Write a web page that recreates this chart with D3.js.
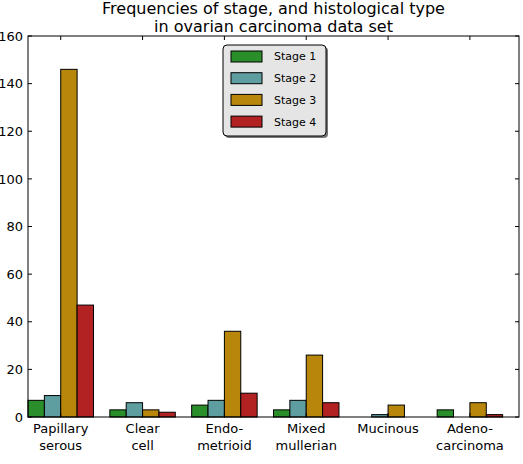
<!DOCTYPE html>
<html>
<head>
<meta charset="utf-8">
<script src="https://cdn.jsdelivr.net/npm/d3@7"></script>
<style>
  body { margin: 0; background: #fff; }
  text { font-family: "DejaVu Sans", sans-serif; }
</style>
</head>
<body>
<div id="chart"></div>
<script>
// Data.
const histTypes = [
    ["Papillary", "serous"],
    ["Clear", "cell"],
    ["Endo-", "metrioid"],
    ["Mixed", "mullerian"],
    ["Mucinous"],
    ["Adeno-", "carcinoma"]
];
const stages = ["Stage 1", "Stage 2", "Stage 3", "Stage 4"];
const stage1 = [7, 3, 5, 3, 0, 3];
const stage2 = [9, 6, 7, 7, 1, 0];
const stage3 = [146, 3, 36, 26, 5, 6];
const stage4 = [47, 2, 10, 6, 0, 1];
const yTicks = [0, 20, 40, 60, 80, 100, 120, 140, 160];

const colors = ["#2a8f2a", "#5f9ea0", "#b8860b", "#b22222"];

const W = 523, H = 464;
const Margin = { top: 36, right: 4, bottom: 47, left: 28 };
const Width = W - Margin.left - Margin.right;
const Height = H - Margin.top - Margin.bottom;

const series = [stage1, stage2, stage3, stage4];
const barW = 0.2;

const svg = d3.select("#chart")
    .append("svg")
        .attr("width", W)
        .attr("height", H);

const g = svg.append("g")
    .attr("transform", `translate(${Margin.left},${Margin.top})`);

const x = d3.scaleLinear().domain([0, 6]).range([0, Width]);
const y = d3.scaleLinear().domain([0, 160]).range([Height, 0]);

// Bars
series.forEach((vals, k) => {
    g.selectAll(".bar" + k)
        .data(vals)
        .join("rect")
            .attr("x", (d, i) => x(i + k * barW))
            .attr("width", x(barW) - x(0))
            .attr("y", d => y(d))
            .attr("height", d => y(0) - y(d))
            .attr("fill", colors[k])
            .attr("stroke", "#000")
            .attr("stroke-width", 1);
});

// Frame
g.append("rect")
    .attr("x", 0).attr("y", 0)
    .attr("width", Width).attr("height", Height)
    .attr("fill", "none")
    .attr("stroke", "#000")
    .attr("stroke-width", 1);

// Ticks inside on all four sides
const tickLen = 4;
const xTickPos = histTypes.map((d, i) => i + 0.4);
xTickPos.forEach(v => {
    g.append("line").attr("x1", x(v)).attr("x2", x(v))
        .attr("y1", Height).attr("y2", Height - tickLen).attr("stroke", "#000");
    g.append("line").attr("x1", x(v)).attr("x2", x(v))
        .attr("y1", 0).attr("y2", tickLen).attr("stroke", "#000");
});
yTicks.forEach(v => {
    g.append("line").attr("x1", 0).attr("x2", tickLen)
        .attr("y1", y(v)).attr("y2", y(v)).attr("stroke", "#000");
    g.append("line").attr("x1", Width).attr("x2", Width - tickLen)
        .attr("y1", y(v)).attr("y2", y(v)).attr("stroke", "#000");
});

// Y tick labels
g.selectAll(".ylab")
    .data(yTicks)
    .join("text")
        .attr("x", -5)
        .attr("y", d => y(d))
        .attr("dy", "0.36em")
        .attr("text-anchor", "end")
        .style("font-size", "13px")
        .attr("fill", "#000")
        .text(d => d);

// X tick labels (two lines)
histTypes.forEach((lines, i) => {
    const t = g.append("text")
        .attr("x", x(i + 0.4))
        .attr("y", Height + 16)
        .attr("text-anchor", "middle")
        .style("font-size", "13px")
        .attr("fill", "#000");
    lines.forEach((ln, j) => {
        t.append("tspan")
            .attr("x", x(i + 0.4))
            .attr("dy", j === 0 ? 0 : 16.5)
            .text(ln);
    });
});

// Title
const title = svg.append("text")
    .attr("x", Margin.left + Width / 2)
    .attr("y", 14)
    .attr("text-anchor", "middle")
    .style("font-size", "16px")
    .attr("fill", "#000");
title.append("tspan").attr("x", Margin.left + Width / 2).text("Frequencies of stage, and histological type");
title.append("tspan").attr("x", Margin.left + Width / 2).attr("dy", 17.5).text("in ovarian carcinoma data set");

// Legend
const leg = svg.append("g").attr("transform", "translate(223,45)");
leg.append("rect")
    .attr("x", 2).attr("y", 2)
    .attr("width", 103).attr("height", 91)
    .attr("rx", 4)
    .attr("fill", "#777");
leg.append("rect")
    .attr("width", 103).attr("height", 91)
    .attr("rx", 4)
    .attr("fill", "#e5e5e5")
    .attr("stroke", "#000")
    .attr("stroke-width", 1);
stages.forEach((s, k) => {
    leg.append("rect")
        .attr("x", 8).attr("y", 6 + k * 21.7)
        .attr("width", 31).attr("height", 11)
        .attr("fill", colors[k])
        .attr("stroke", "#000");
    leg.append("text")
        .attr("x", 51).attr("y", 11.5 + k * 21.7)
        .attr("dy", "0.36em")
        .style("font-size", "11px")
        .attr("fill", "#000")
        .text(s);
});
</script>
</body>
</html>
